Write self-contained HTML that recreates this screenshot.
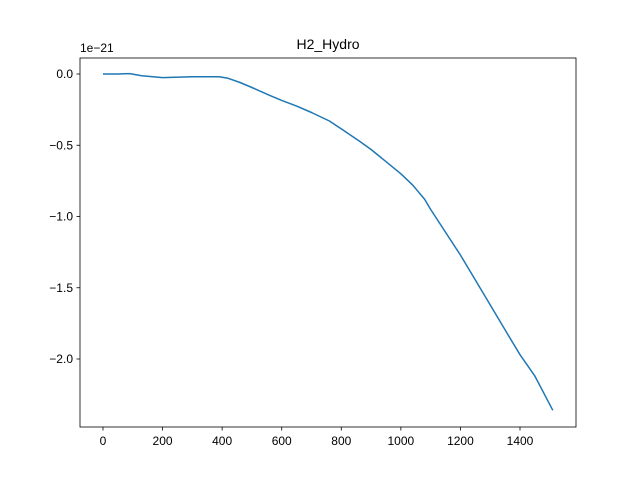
<!DOCTYPE html>
<html><head><meta charset="utf-8"><style>
body{margin:0;background:#fff}
svg{display:block;font-family:"Liberation Sans","DejaVu Sans",sans-serif}
</style></head><body>
<svg id="chart" width="640" height="480">
<rect width="640" height="480" fill="#fff"/>
<text x="328" y="49" font-size="14" text-anchor="middle">H2_Hydro</text>
<text x="80" y="52" font-size="12">1e−21</text>
<g id="ticks"></g>
<path id="line" fill="none" stroke="#1f77b4" stroke-width="1.5" stroke-linejoin="round"/>
<rect x="80" y="58" width="496" height="369" fill="none" stroke="#000" stroke-width="0.8"/>
</svg>
<script>
const xValues=[0,50,90,130,200,300,390,420,460,500,560,600,650,700,760,800,860,900,1000,1040,1080,1100,1200,1300,1380,1400,1450,1510];
const yValues=[0,0,0.003,-0.012,-0.025,-0.02,-0.02,-0.03,-0.06,-0.095,-0.15,-0.185,-0.225,-0.27,-0.33,-0.385,-0.47,-0.53,-0.7,-0.78,-0.88,-0.95,-1.27,-1.62,-1.9,-1.97,-2.12,-2.36];
const xTicks=[0,200,400,600,800,1000,1200,1400];
const yTicks=[0,-0.5,-1.0,-1.5,-2.0];
const yTickLabels=["0.0","−0.5","−1.0","−1.5","−2.0"];
const sx=v=>103+v*(417/1400);
const sy=v=>74-v*142.5;
const ns="http://www.w3.org/2000/svg";
const g=document.getElementById('ticks');
function mk(t,a){const e=document.createElementNS(ns,t);for(const k in a)e.setAttribute(k,a[k]);g.appendChild(e);return e;}
xTicks.forEach(v=>{
 const l=mk('line',{x1:sx(v),x2:sx(v),y1:427,y2:430.5,stroke:'#000','stroke-width':0.8});
 
 
 const t=mk('text',{x:sx(v),y:445,'font-size':12,'text-anchor':'middle'});
 t.textContent=v;
 
 
});
yTicks.forEach((v,i)=>{
 const l=mk('line',{x1:76.5,x2:80,y1:sy(v),y2:sy(v),stroke:'#000','stroke-width':0.8});
 
 
 const t=mk('text',{x:73,y:sy(v)+4,'font-size':12,'text-anchor':'end'});
 t.textContent=yTickLabels[i];
 
 
});
document.getElementById('line').setAttribute('d',xValues.map((x,i)=>(i?'L':'M')+sx(x).toFixed(1)+','+sy(yValues[i]).toFixed(1)).join(''));
</script>
</body></html>
